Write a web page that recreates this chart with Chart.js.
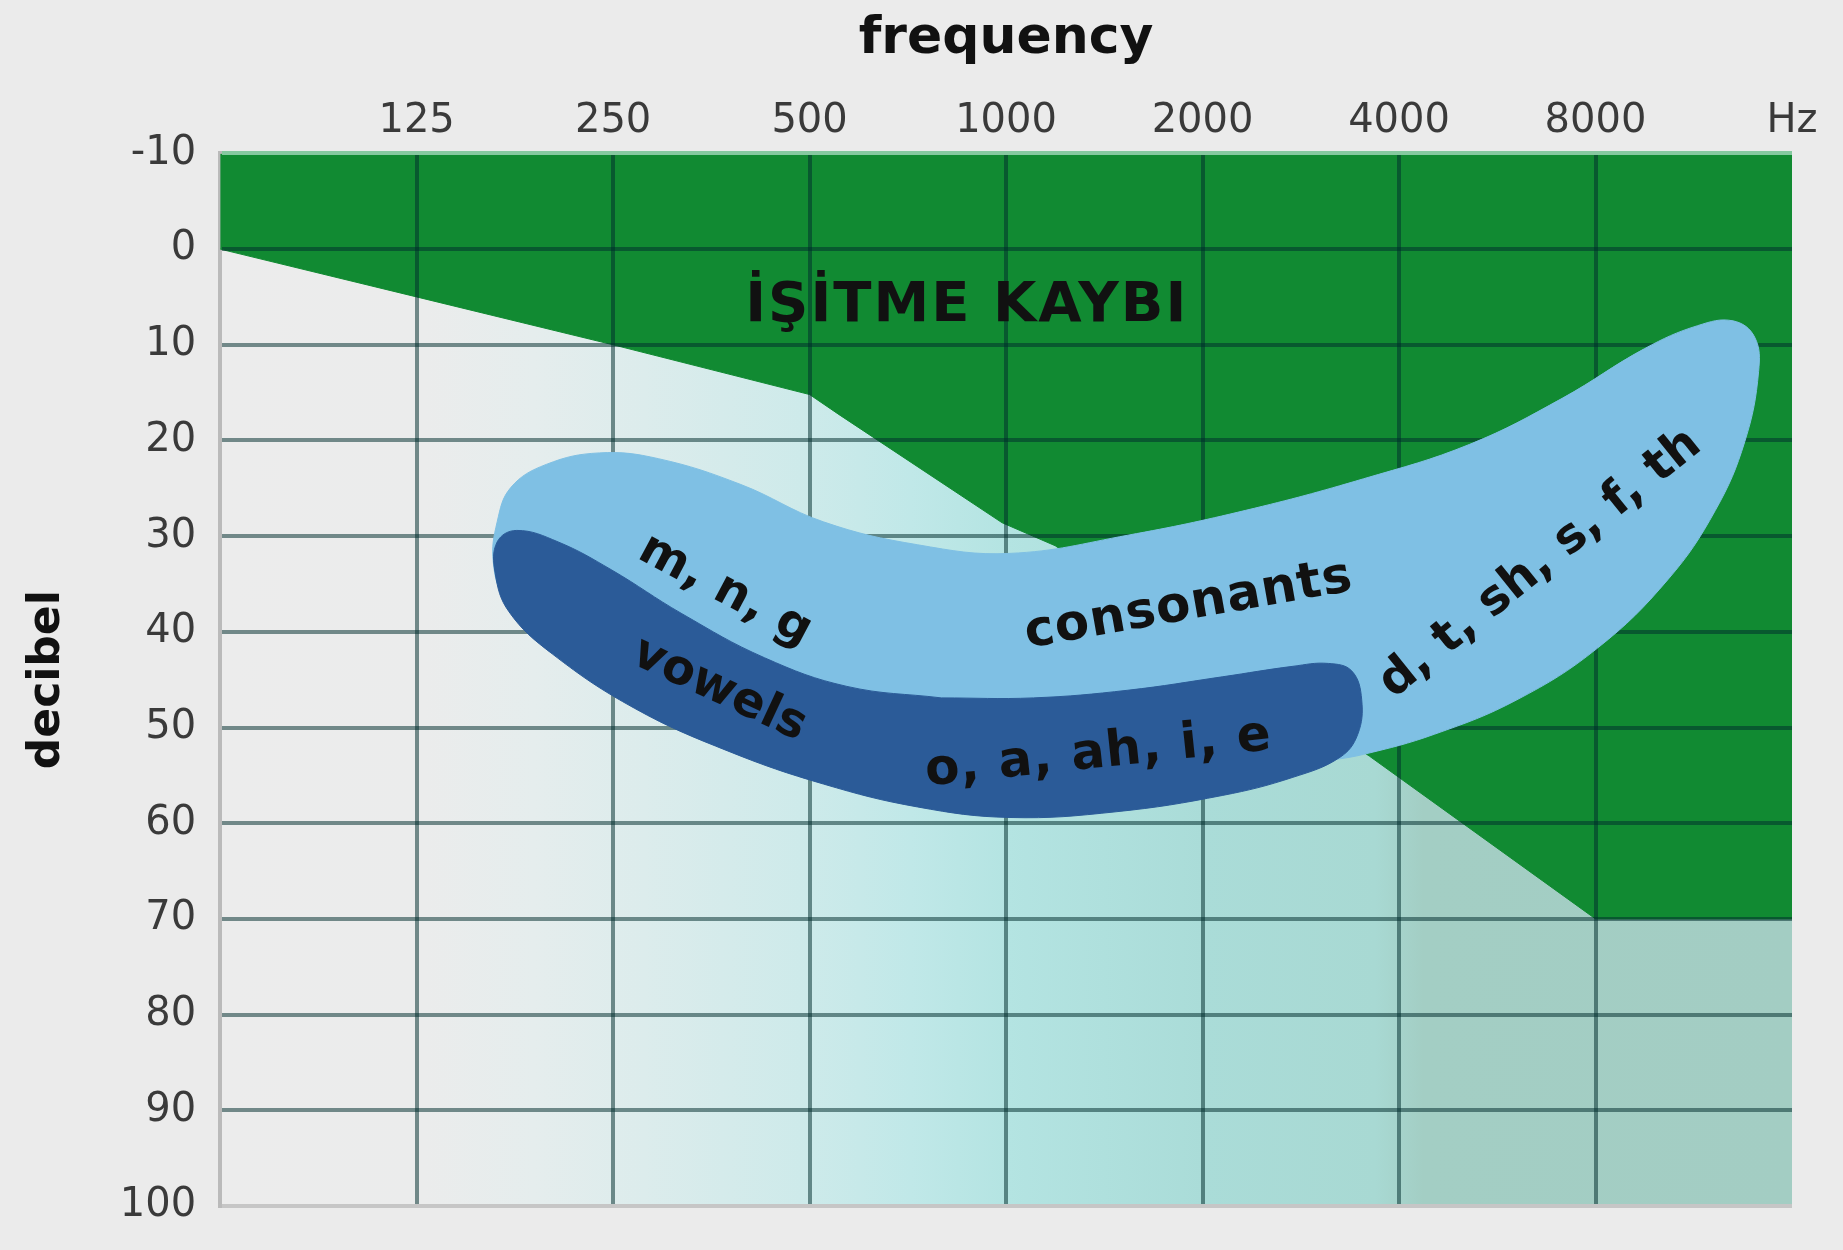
<!DOCTYPE html>
<html>
<head>
<meta charset="utf-8">
<title>İşitme kaybı - speech banana</title>
<script src="https://cdn.jsdelivr.net/npm/chart.js@4.4.1/dist/chart.umd.min.js"></script>
<style>
    html, body { margin: 0; padding: 0; background: #ebebeb; }
    #wrap { width: 1843px; height: 1250px; }
</style>
</head>
<body>
<div id="wrap"><canvas id="audiogram" width="1843" height="1250"></canvas></div>
<script>
// x axis is in octaves: 0 = 62.5 Hz ... 8 = 16000 Hz
const freqLabels = ['', '125', '250', '500', '1000', '2000', '4000', '8000', 'Hz'];

// lower edge of the hearing loss (green) area
const lossOctave = [0, 1, 2, 3, 3.15, 3.98, 4.25, 5.85, 7, 8];
const lossDb = [0, 5, 10, 15.2, 17.3, 28.6, 31, 53, 70, 70];

// consonants (light blue) outline, starts under the vowels so the seam is hidden
const consonantOctave = [4.02, 3.55, 3.07, 2.59, 2.11, 1.69, 1.45, 1.39, 1.41, 1.48, 1.66, 1.93, 2.23, 2.65, 3.07, 3.55, 4.02, 4.62, 5.22, 5.82, 6.36, 6.83, 7.25, 7.52, 7.70, 7.81, 7.83, 7.76, 7.61, 7.37, 7.01, 6.60, 6.18, 5.82, 5.58, 5.10, 4.56];
const consonantDb = [58.4, 57.3, 54.9, 51.5, 47.0, 41.3, 36.5, 32.7, 28.5, 24.9, 22.5, 21.3, 21.9, 24.6, 28.5, 30.9, 31.8, 29.9, 27.3, 24.0, 20.4, 15.6, 10.4, 8.0, 7.5, 9.2, 12.8, 20.1, 27.3, 34.5, 41.7, 47.1, 50.7, 52.8, 53.7, 56.1, 57.8];

// vowels (dark blue) outline
const vowelOctave = [3.67, 4.14, 4.62, 5.10, 5.46, 5.64, 5.76, 5.81, 5.79, 5.70, 5.46, 5.10, 4.56, 4.02, 3.55, 3.07, 2.59, 2.11, 1.69, 1.47, 1.40, 1.41, 1.51, 1.72, 1.99, 2.35, 2.77, 3.19];
const vowelDb = [46.9, 46.9, 46.1, 44.7, 43.6, 43.3, 44.1, 47.1, 50.7, 53.1, 55.2, 57.1, 58.8, 59.4, 58.3, 55.9, 52.5, 48.0, 42.3, 37.9, 33.9, 30.6, 29.4, 30.6, 33.5, 38.1, 42.7, 45.7];

// text written on the chart
const noteTexts = ['İŞİTME KAYBI', 'm, n, g', 'vowels', 'o, a, ah, i, e', 'consonants', 'd, t, sh, s, f, th'];
const noteOctave = [3.80, 2.57, 2.54, 4.47, 4.93, 6.72];
const noteDb = [6.0, 35.7, 46.1, 52.8, 37.3, 32.9];
const noteAngle = [0, 28, 25, -6, -10, -39];

document.addEventListener('DOMContentLoaded', function () {
    Chart.defaults.font.family = '"DejaVu Sans", Verdana, sans-serif';

    function toPoints(xs, ys, closed) {
        const pts = xs.map((x, i) => ({ x: x, y: ys[i] }));
        if (closed) pts.push({ x: xs[0], y: ys[0] });
        return pts;
    }

    const gridColor = 'rgba(0, 45, 45, 0.52)';

    // background gradient, grid over the green, and the texts
    const audiogramPlugin = {
        id: 'audiogram',
        beforeDatasetsDraw(chart) {
            const { ctx, chartArea: a } = chart;
            const g = ctx.createLinearGradient(a.left, 0, a.right, 0);
            g.addColorStop(0, '#ececec');
            g.addColorStop(0.13, '#ebecec');
            g.addColorStop(0.2, '#e5eded');
            g.addColorStop(0.27, '#dcecec');
            g.addColorStop(0.375, '#cdeaea');
            g.addColorStop(0.44, '#c0e8e8');
            g.addColorStop(0.5, '#b4e4e2');
            g.addColorStop(0.625, '#aadcd8');
            g.addColorStop(0.735, '#a8d9d3');
            g.addColorStop(0.765, '#a3cec4');
            g.addColorStop(1, '#a3cdc3');
            ctx.save();
            ctx.fillStyle = g;
            ctx.fillRect(a.left, a.top, a.width, a.height);
            ctx.restore();
            chart.scales.y.drawBorder();
        },
        afterDatasetDraw(chart, args) {
            if (args.meta.label !== 'loss') return;
            chart.scales.x.drawGrid(chart.chartArea);
            chart.scales.y.drawGrid(chart.chartArea);
        },
        afterDatasetsDraw(chart) {
            const ctx = chart.ctx;
            const xs = chart.scales.x;
            const ys = chart.scales.y;
            ctx.save();
            ctx.fillStyle = '#111';
            ctx.textAlign = 'center';
            ctx.textBaseline = 'middle';
            noteTexts.forEach((t, i) => {
                ctx.save();
                ctx.translate(xs.getPixelForValue(noteOctave[i]), ys.getPixelForValue(noteDb[i]));
                ctx.rotate(noteAngle[i] * Math.PI / 180);
                if (i === 0) {
                    ctx.font = 'bold 56px "DejaVu Sans"';
                    ctx.letterSpacing = '2px';
                } else if (i === 3 || i === 4) {
                    ctx.font = 'bold 50px "DejaVu Sans"';
                    ctx.letterSpacing = '1px';
                } else {
                    ctx.font = 'bold 48px "DejaVu Sans"';
                    ctx.letterSpacing = '0px';
                }
                ctx.fillText(t, 0, 0);
                ctx.restore();
            });
            ctx.restore();
        }
    };

    const ctx = document.getElementById('audiogram').getContext('2d');

    new Chart(ctx, {
        type: 'line',
        data: {
            datasets: [
                {
                    label: 'vowels',
                    data: toPoints(vowelOctave, vowelDb, true),
                    backgroundColor: '#2b5b98',
                    borderColor: '#2b5b98',
                    borderWidth: 1,
                    fill: 'shape',
                    tension: 0.4,
                    pointRadius: 0,
                },
                {
                    label: 'consonants',
                    data: toPoints(consonantOctave, consonantDb, true),
                    backgroundColor: '#7fc0e4',
                    borderColor: '#7fc0e4',
                    borderWidth: 1,
                    fill: 'shape',
                    tension: 0.4,
                    pointRadius: 0,
                },
                {
                    label: 'loss',
                    data: toPoints(lossOctave, lossDb, false),
                    backgroundColor: '#118a32',
                    borderColor: '#118a32',
                    borderWidth: 1,
                    fill: { value: -10 },
                    tension: 0,
                    pointRadius: 0,
                },
            ],
        },
        options: {
            responsive: false,
            animation: false,
            layout: { padding: { left: 0, right: 51, top: 0, bottom: 22 } },
            plugins: {
                legend: { display: false },
                tooltip: { enabled: false },
            },
            scales: {
                x: {
                    type: 'linear',
                    position: 'top',
                    min: 0,
                    max: 8,
                    title: {
                        display: true,
                        text: 'frequency',
                        color: '#111',
                        font: { size: 52, weight: 'bold' },
                        padding: { top: 8, bottom: 19 },
                    },
                    ticks: {
                        stepSize: 1,
                        autoSkip: false,
                        maxRotation: 0,
                        padding: 12,
                        color: '#3a3a3a',
                        font: { size: 40, lineHeight: 1 },
                        callback: v => freqLabels[v],
                    },
                    grid: {
                        drawTicks: false,
                        lineWidth: 4,
                        color: c => (c.tick && (c.tick.value === 0 || c.tick.value === 8)) ? 'rgba(0,0,0,0)' : gridColor,
                    },
                    border: { display: false },
                },
                y: {
                    reverse: true,
                    min: -10,
                    max: 100,
                    title: {
                        display: true,
                        text: 'decibel',
                        color: '#111',
                        font: { size: 44, weight: 'bold' },
                        padding: { top: 21, bottom: 22 },
                    },
                    ticks: {
                        stepSize: 10,
                        padding: 24,
                        color: '#3a3a3a',
                        font: { size: 40, lineHeight: 1 },
                    },
                    grid: {
                        drawTicks: false,
                        lineWidth: 4,
                        color: c => {
                            if (!c.tick) return gridColor;
                            if (c.tick.value === -10) return '#86c9a0';
                            if (c.tick.value === 100) return '#c6c6c6';
                            return gridColor;
                        },
                    },
                    border: { color: '#bababa', width: 4 },
                },
            },
        },
        plugins: [audiogramPlugin],
    });
});
</script>
</body>
</html>
